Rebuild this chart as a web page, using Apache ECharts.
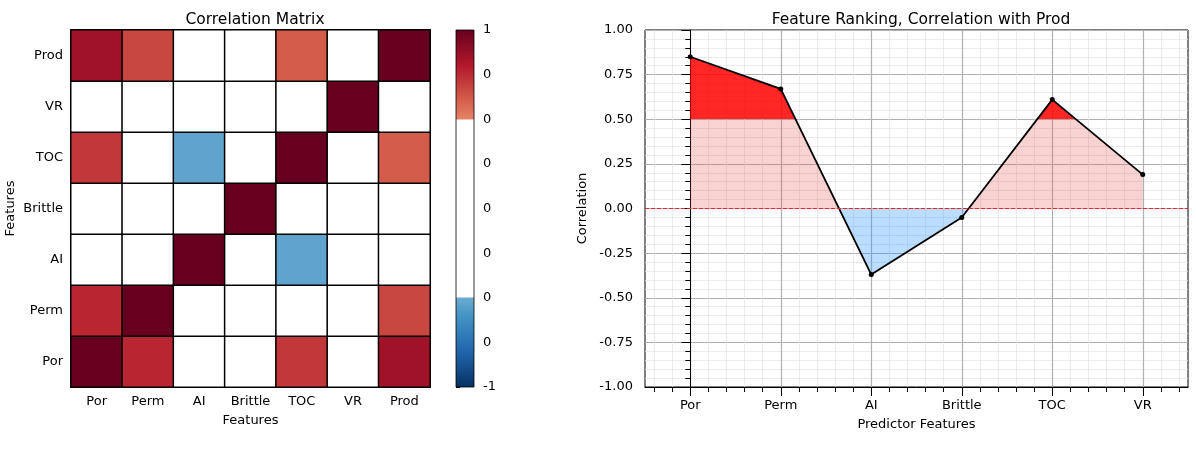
<!DOCTYPE html>
<html>
<head>
<meta charset="utf-8">
<script src="https://cdn.jsdelivr.net/npm/echarts@6/dist/echarts.min.js"></script>
<style>
  html, body { margin: 0; padding: 0; background: #fff; }
  #chart { width: 1196px; height: 449px; }
</style>
</head>
<body>
<div id="chart"></div>
<script>
// ---------- data ----------
const features = ['Por', 'Perm', 'AI', 'Brittle', 'TOC', 'VR', 'Prod'];
// correlation rows (columns in the order of `features`)
const corrPor     = [1.00, 0.76, -0.46, -0.22, 0.71, 0.11, 0.85];
const corrPerm    = [0.76, 1.00, -0.24, -0.12, 0.45, 0.05, 0.67];
const corrAI      = [-0.46, -0.24, 1.00, 0.13, -0.53, 0.48, -0.37];
const corrBrittle = [-0.22, -0.12, 0.13, 1.00, -0.21, 0.32, -0.05];
const corrTOC     = [0.71, 0.45, -0.53, -0.21, 1.00, 0.30, 0.61];
const corrVR      = [0.11, 0.05, 0.48, 0.32, 0.30, 1.00, 0.19];
const corrProd    = [0.85, 0.67, -0.37, -0.05, 0.61, 0.19, 1.00];

const predictors = ['Por', 'Perm', 'AI', 'Brittle', 'TOC', 'VR'];
const prodCorr   = [0.85, 0.67, -0.37, -0.05, 0.61, 0.19];

const cbarRange = [-1, 1];
const corrRange = [-1, 1];           // y range of ranking plot
const fillLevels = [0, 0.5];         // fill thresholds

// ---------- colormap (RdBu_r with |r|<0.5 masked white) ----------
const rdbuR = ['#053061','#2166ac','#4393c3','#92c5de','#d1e5f0','#f7f7f7',
               '#fddbc7','#f4a582','#d6604d','#b2182b','#67001f'];
function hex2rgb(h) { return [parseInt(h.substr(1,2),16), parseInt(h.substr(3,2),16), parseInt(h.substr(5,2),16)]; }
function interp(t) {
  const p = Math.max(0, Math.min(1, t)) * 10;
  const i = Math.min(9, Math.floor(p));
  const f = p - i;
  const a = hex2rgb(rdbuR[i]), b = hex2rgb(rdbuR[i + 1]);
  const c = a.map((v, k) => Math.round(v + (b[k] - v) * f));
  return 'rgb(' + c.join(',') + ')';
}
function cmap(v) {
  if (Math.abs(v) < 0.5) return '#ffffff';
  return interp((v + 1) / 2);
}
const cmapColors = [];
for (let i = 0; i <= 200; i++) cmapColors.push(cmap((i - 100) / 100));
const cbarStops = [];
for (let i = 0; i <= 400; i++) cbarStops.push({ offset: i / 400, color: cmap((200 - i) / 200) });

// ---------- build data ----------
const matrixRows = [corrPor, corrPerm, corrAI, corrBrittle, corrTOC, corrVR, corrProd];
const heatData = [];
matrixRows.forEach((row, yi) => row.forEach((v, xi) => heatData.push([xi, yi, v])));

const lineData = prodCorr.map((v, i) => [i, v]);

// positional category axis for ticks/grid of ranking plot (-0.5 .. 5.5 step 0.1)
const tickSlots = [];
for (let i = 0; i <= 60; i++) tickSlots.push('s' + i);
const isMajor = (i) => i % 10 === 5;
const isMinor = (i) => i % 2 === 1 && i % 10 !== 5;

const FONT = 'DejaVu Sans';
const txt = { color: '#000', fontFamily: FONT, fontSize: 13 };
const ttl = { fontFamily: FONT, fontSize: 15.5, fontWeight: 'normal', color: '#000' };

const chart = echarts.init(document.getElementById('chart'));
chart.setOption({
  animation: false,
  backgroundColor: '#fff',
  textStyle: { fontFamily: FONT, color: '#000' },
  title: [
    { text: 'Correlation Matrix', left: 250, top: 7, textAlign: 'center', textStyle: ttl },
    { text: 'Feature Ranking, Correlation with Prod', left: 916, top: 7, textAlign: 'center', textStyle: ttl }
  ],
  grid: [
    { left: 71, top: 30, width: 359, height: 357 },
    { left: 456, top: 30, width: 18, height: 357 },
    { left: 645, top: 30, width: 543, height: 357, show: true, borderColor: '#000', borderWidth: 1 }
  ],
  xAxis: [
    { type: 'category', gridIndex: 0, data: features,
      name: 'Features', nameLocation: 'middle', nameGap: 27, nameTextStyle: txt,
      axisLine: { lineStyle: { color: '#000', width: 1 } },
      axisTick: { alignWithLabel: true, interval: 0, length: 5, lineStyle: { color: '#000' } },
      axisLabel: Object.assign({ margin: 8, interval: 0, hideOverlap: false }, txt),
      splitLine: { show: false } },
    { type: 'value', gridIndex: 1, min: 0, max: 1, show: false },
    { type: 'value', gridIndex: 2, min: -0.5, max: 5.5, show: false },
    { type: 'category', gridIndex: 2, data: tickSlots, boundaryGap: false, position: 'bottom',
      name: 'Predictor Features', nameLocation: 'middle', nameGap: 31, nameTextStyle: txt,
      axisLine: { show: true, lineStyle: { color: '#000', width: 1 } },
      axisTick: { interval: (i) => isMajor(i), length: 9, lineStyle: { color: '#000' } },
      axisLabel: Object.assign({ interval: (i) => isMajor(i), margin: 12,
        formatter: (v, i) => isMajor(i) ? predictors[(i - 5) / 10] : '' }, txt),
      splitLine: { show: true, interval: (i) => isMajor(i), lineStyle: { color: '#b0b0b0', width: 1.2 } } },
    { type: 'category', gridIndex: 2, data: tickSlots, boundaryGap: false, position: 'bottom',
      axisLine: { show: false },
      axisTick: { interval: (i) => isMinor(i), length: 5, lineStyle: { color: '#000' } },
      axisLabel: { show: false },
      splitLine: { show: true, interval: (i) => isMinor(i), lineStyle: { color: '#e2e2e2', width: 0.7 } } }
  ],
  yAxis: [
    { type: 'category', gridIndex: 0, data: features,
      name: 'Features', nameLocation: 'middle', nameGap: 54, nameTextStyle: txt,
      axisLine: { lineStyle: { color: '#000', width: 1 } },
      axisTick: { alignWithLabel: true, interval: 0, length: 5, lineStyle: { color: '#000' } },
      axisLabel: Object.assign({ margin: 8, interval: 0, hideOverlap: false }, txt),
      splitLine: { show: false } },
    { type: 'value', gridIndex: 1, min: cbarRange[0], max: cbarRange[1], interval: 0.25, position: 'right',
      axisLine: { show: false },
      axisTick: { show: true, length: 4, lineStyle: { color: '#000' } },
      axisLabel: Object.assign({ margin: 9, formatter: (v) => { const t = Math.trunc(v); return t === 0 ? '0' : String(t); } }, txt),
      splitLine: { show: false } },
    { type: 'value', gridIndex: 2, min: corrRange[0], max: corrRange[1], interval: 0.25,
      name: 'Correlation', nameLocation: 'middle', nameGap: 56, nameTextStyle: txt,
      axisLine: { show: true, lineStyle: { color: '#000', width: 1 } },
      axisTick: { show: true, length: 9, lineStyle: { color: '#000' } },
      minorTick: { show: true, splitNumber: 5, length: 5, lineStyle: { color: '#000' } },
      axisLabel: Object.assign({ margin: 12, formatter: (v) => v.toFixed(2) }, txt),
      splitLine: { show: true, lineStyle: { color: '#b0b0b0', width: 1.2 } },
      minorSplitLine: { show: true, lineStyle: { color: '#e2e2e2', width: 0.7 } } }
  ],
  visualMap: [
    { type: 'continuous', show: false, seriesIndex: 0, dimension: 2,
      min: cbarRange[0], max: cbarRange[1], inRange: { color: cmapColors } },
    { type: 'piecewise', show: false, seriesIndex: 2, dimension: 1,
      pieces: [
        { lt: fillLevels[0], color: 'rgba(30,144,255,0.3)' },
        { gte: fillLevels[0], lt: fillLevels[1], color: 'rgba(230,80,80,0.26)' },
        { gte: fillLevels[1], color: 'rgba(255,0,0,0.85)' }
      ] }
  ],
  series: [
    { type: 'heatmap', xAxisIndex: 0, yAxisIndex: 0, data: heatData,
      itemStyle: { borderColor: '#000', borderWidth: 1.5 },
      emphasis: { disabled: true }, silent: true },
    { type: 'custom', xAxisIndex: 1, yAxisIndex: 1, data: [cbarRange], silent: true,
      renderItem: (params, api) => {
        const p0 = api.coord([0, api.value(1)]);
        const p1 = api.coord([1, api.value(0)]);
        return { type: 'rect',
          shape: { x: p0[0], y: p0[1], width: p1[0] - p0[0], height: p1[1] - p0[1] },
          style: { fill: new echarts.graphic.LinearGradient(0, 0, 0, 1, cbarStops), stroke: '#000', lineWidth: 0.8 } };
      } },
    { type: 'line', xAxisIndex: 2, yAxisIndex: 2, data: lineData, symbol: 'none', silent: true,
      lineStyle: { width: 0, opacity: 0 }, areaStyle: { opacity: 1 }, z: 2,
      markLine: { silent: true, symbol: 'none', label: { show: false },
        lineStyle: { color: '#e8262b', type: [4, 2], width: 1.1 }, data: [{ yAxis: 0 }] } },
    { type: 'line', xAxisIndex: 2, yAxisIndex: 2, data: lineData, silent: true,
      symbol: 'circle', symbolSize: 5, z: 3,
      lineStyle: { color: '#000', width: 1.8 }, itemStyle: { color: '#000' } }
  ]
});
</script>
</body>
</html>
